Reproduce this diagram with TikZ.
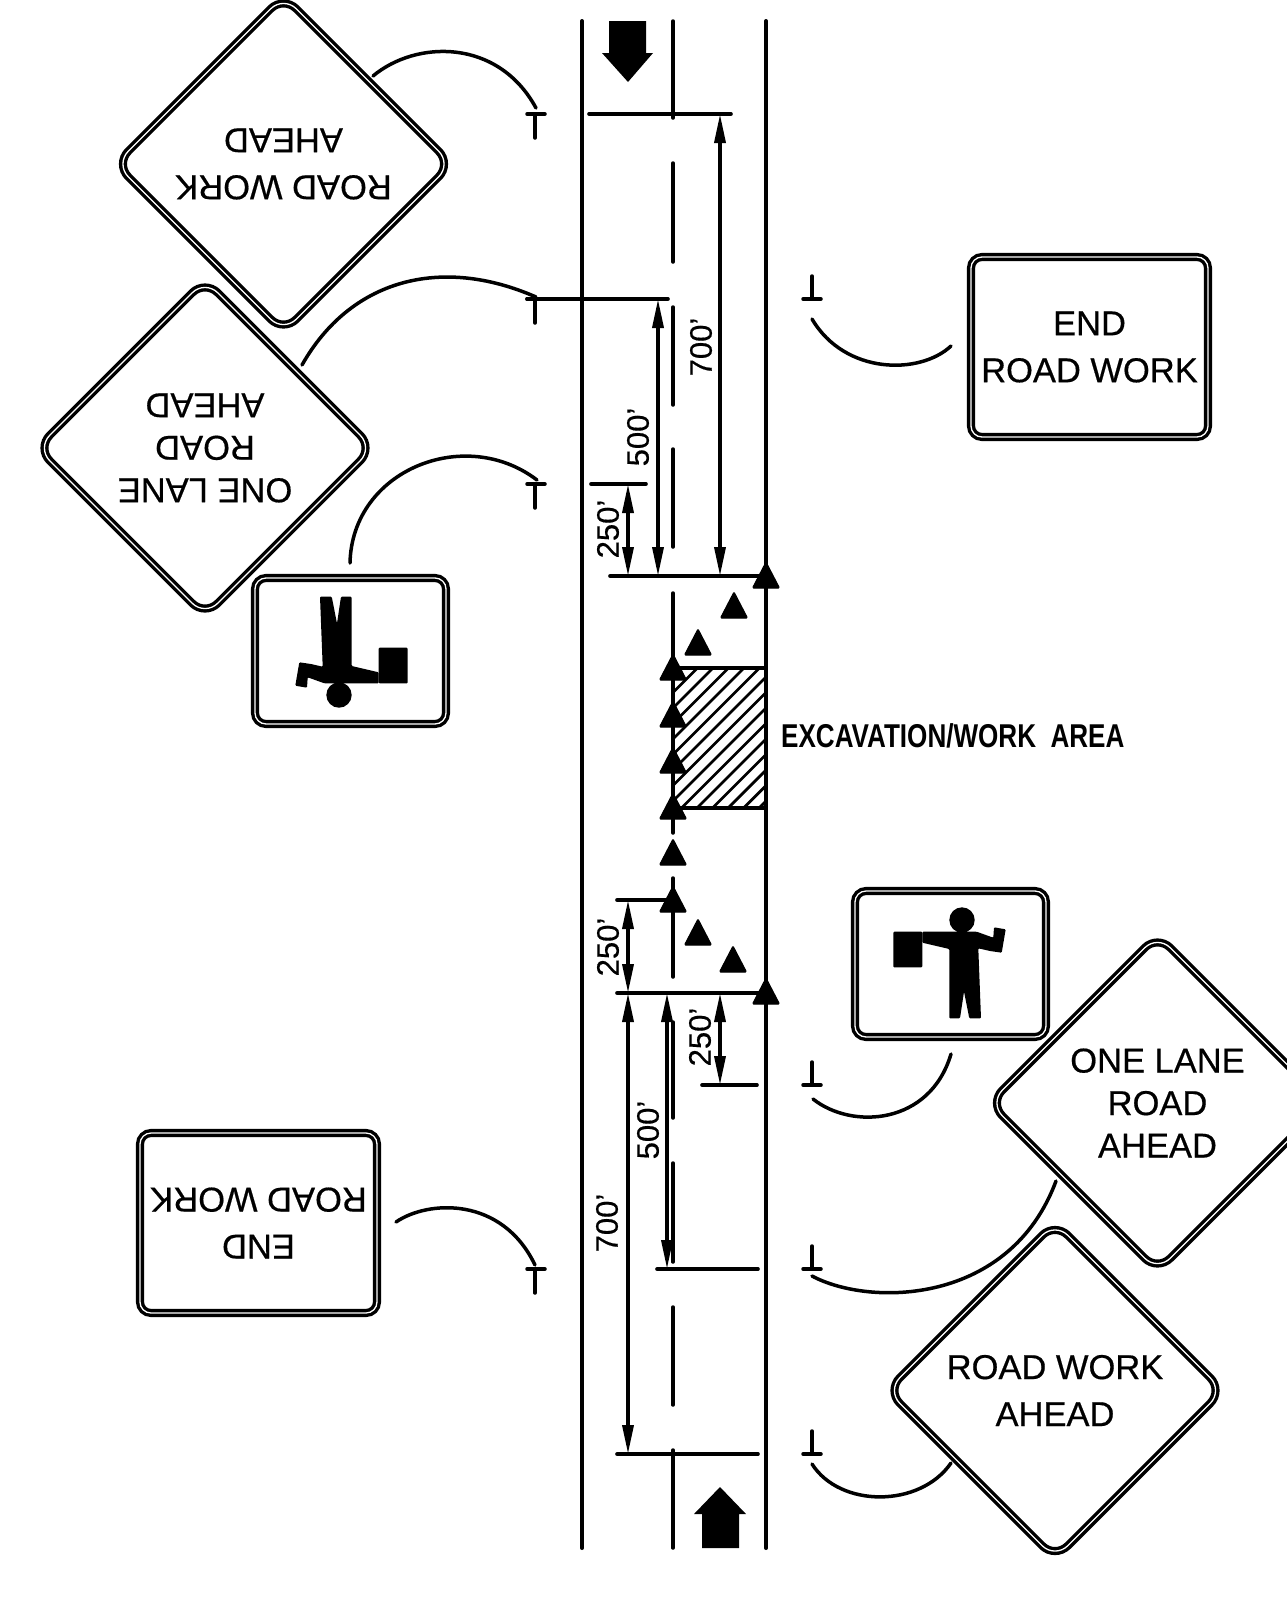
\documentclass[tikz,border=0pt]{standalone}
\usepackage{fontspec}
\usepackage{graphicx}
\setmainfont[FakeBold=0.5]{Liberation Sans}
\newfontfamily\areafont{Liberation Sans}
\usetikzlibrary{arrows.meta,shapes.geometric}
\tikzset{
  road/.style={line width=4pt,line cap=round},
  lane/.style={line width=3.5pt,line cap=round},
  thin line/.style={line width=3.6pt,line cap=round},
  dim/.style={line width=3.5pt,{Triangle[length=29pt,width=11pt]}-{Triangle[length=29pt,width=11pt]}},
  dimtext/.style={rotate=90,font=\fontsize{31}{31}\selectfont,inner sep=0pt},
  sign/.style={draw,line width=3.4pt,double=white,double distance=1.3pt,fill=white,inner sep=0pt,outer sep=0pt,align=center},
  roundsign/.style={sign,diamond,aspect=1,minimum width=336pt,minimum height=336pt,rounded corners=18pt},
  boxsign/.style={sign,rectangle,rounded corners=11pt},
  textbig/.style={font=\fontsize{34.5}{47}\selectfont},
  textsmall/.style={font=\fontsize{34.5}{42.5}\selectfont},
  cone/.style={fill,draw,line width=1pt,line join=round,rounded corners=1pt},
  post/.style={line width=3.5pt,line cap=round},
}
\begin{document}
\begin{tikzpicture}[x=1pt,y=-1pt]
\clip (0,0) rectangle (1287,1599);

% road
\draw[road] (582,21)--(582,1548);
\draw[road] (766,21)--(766,1548);
\foreach \a/\b in {21/118,163/262,307/405,449/547,593/833,878/977,1022/1118,1163/1262,1307/1405,1450/1548}{
\draw[lane] (673,\a)--(673,\b);
}

% work area
\begin{scope}
\clip (673,668) rectangle (766,808);
\foreach \k in {1350,1365.5,...,1580}{
\draw[line width=2.8pt] ({\k-668},668)--({\k-808},808);
}
\end{scope}
\draw[line width=3.5pt] (673,668) rectangle (766,808);
\node[anchor=west,inner sep=0pt,font=\fontsize{33}{33}\areafont\bfseries] (excavation) at (781,736) {\scalebox{0.79}[1]{EXCAVATION/WORK\ \ AREA}};

% direction arrows
\fill (609,21)--(646,21)--(646,53)--(653,53)--(628,82)--(602,53)--(609,53)--cycle;
\fill (702,1548)--(739,1548)--(739,1514)--(746,1514)--(720,1487)--(694,1514)--(702,1514)--cycle;

% distance lines
\foreach \xa/\xb/\y in {589/731/114,527/668/299,591/646/484,610/766/576,617/673/900,617/766/993,702/757/1085,657/758/1269,617/758/1454}{
\draw[thin line] (\xa,\y)--(\xb,\y);
}
\draw[dim] (720,114)--(720,576);
\draw[dim] (658,299)--(658,576);
\draw[dim] (628,484)--(628,576);
\draw[dim] (628,900)--(628,993);
\draw[dim] (720,993)--(720,1085);
\draw[dim] (667,993)--(667,1269);
\draw[dim] (628,993)--(628,1454);

\node[dimtext] (top700) at (701,347) {700'};
\node[dimtext] (top500) at (638,437) {500'};
\node[dimtext] (top250) at (608,529) {250'};
\node[dimtext] (low250a) at (608,947) {250'};
\node[dimtext] (low250b) at (700,1037) {250'};
\node[dimtext] (low500) at (648,1130) {500'};
\node[dimtext] (low700) at (607,1223) {700'};

% cones
\foreach \x/\y in {766/588,734/618,698/655,673/680,673/727,673/773,673/819,673/865,673/912,698/945,733/972,766/1004}{
\draw[cone] (\x-13.5,\y)--(\x,\y-26)--(\x+13.5,\y)--cycle;
}

% posts
\foreach \y in {114,299,484,1269}{
\draw[post] (527,\y)--(545,\y);
\draw[post] (535,\y)--(535,\y+24);
}
\foreach \y in {299,1085,1269,1454}{
\draw[post] (803,\y)--(821,\y);
\draw[post] (812,\y)--(812,\y-23);
}

% signs
\node[roundsign,textbig,rotate=180] (workleft) at (283.5,164) {ROAD WORK\\AHEAD};
\node[roundsign,textsmall,rotate=180] (laneleft) at (205,448) {ONE LANE\\ROAD\\AHEAD};
\node[roundsign,textsmall] (laneright) at (1157.5,1103) {ONE LANE\\ROAD\\AHEAD};
\node[roundsign,textbig] (workright) at (1055,1390.5) {ROAD WORK\\AHEAD};
\node[boxsign,textbig,minimum width=237pt,minimum height=180pt] (endright) at (1089.5,347) {END\\ROAD WORK};
\node[boxsign,textbig,rotate=180,minimum width=237pt,minimum height=180pt] (endleft) at (258.5,1223) {END\\ROAD WORK};

\foreach \cx/\cy/\ang/\nm in {950.5/964/0/flagright,350.5/651/180/flagleft}{
\node[boxsign,minimum width=191pt,minimum height=146pt] (\nm) at (\cx,\cy) {};
\begin{scope}[shift={(\cx,\cy)},rotate=\ang]
\fill[rounded corners=1pt] (-57.2,-32.3) rectangle (-28.2,3.3);
\fill (11.5,-44) circle (12.7);
\fill[rounded corners=1pt] (-28.2,-32.3)--(26.2,-32.3)--(42.8,-26.3)--(43.5,-36.7)--(55.2,-34.7)--(51.2,-11.3)--(39.5,-13)--(27.8,-15.7)--(30.5,54.3)--(18.8,54.3)--(13.5,27.7)--(9.5,54.3)--(-1.2,54.3)--(-1.2,-15)--(-28.2,-21.3)--cycle;
\end{scope}
}

% sign connections
\coordinate (a1) at (373,76);
\coordinate (b1) at (536,108);
\draw[post] (a1) .. controls (416,40) and (498,38) .. (b1);
\coordinate (a2) at (302,365);
\coordinate (b2) at (536,297);
\draw[post] (a2) .. controls (350,280) and (440,255) .. (b2);
\coordinate (a3) at (350,563);
\coordinate (b3) at (537,480);
\draw[post] (a3) .. controls (352,470) and (465,425) .. (b3);
\coordinate (a4) at (396,1222);
\coordinate (b4) at (535,1265);
\draw[post] (a4) .. controls (428,1200) and (502,1196) .. (b4);
\coordinate (a5) at (951,346);
\coordinate (b5) at (812,319);
\draw[post] (a5) .. controls (920,375) and (845,375) .. (b5);
\coordinate (a6) at (951,1054);
\coordinate (b6) at (813,1099);
\draw[post] (a6) .. controls (930,1125) and (852,1130) .. (b6);
\coordinate (a7) at (1056,1181);
\coordinate (b7) at (812,1276);
\draw[post] (a7) .. controls (1010,1305) and (870,1307) .. (b7);
\coordinate (a8) at (951,1463);
\coordinate (b8) at (812,1464);
\draw[post] (a8) .. controls (920,1508) and (840,1508) .. (b8);
\end{tikzpicture}
\end{document}
